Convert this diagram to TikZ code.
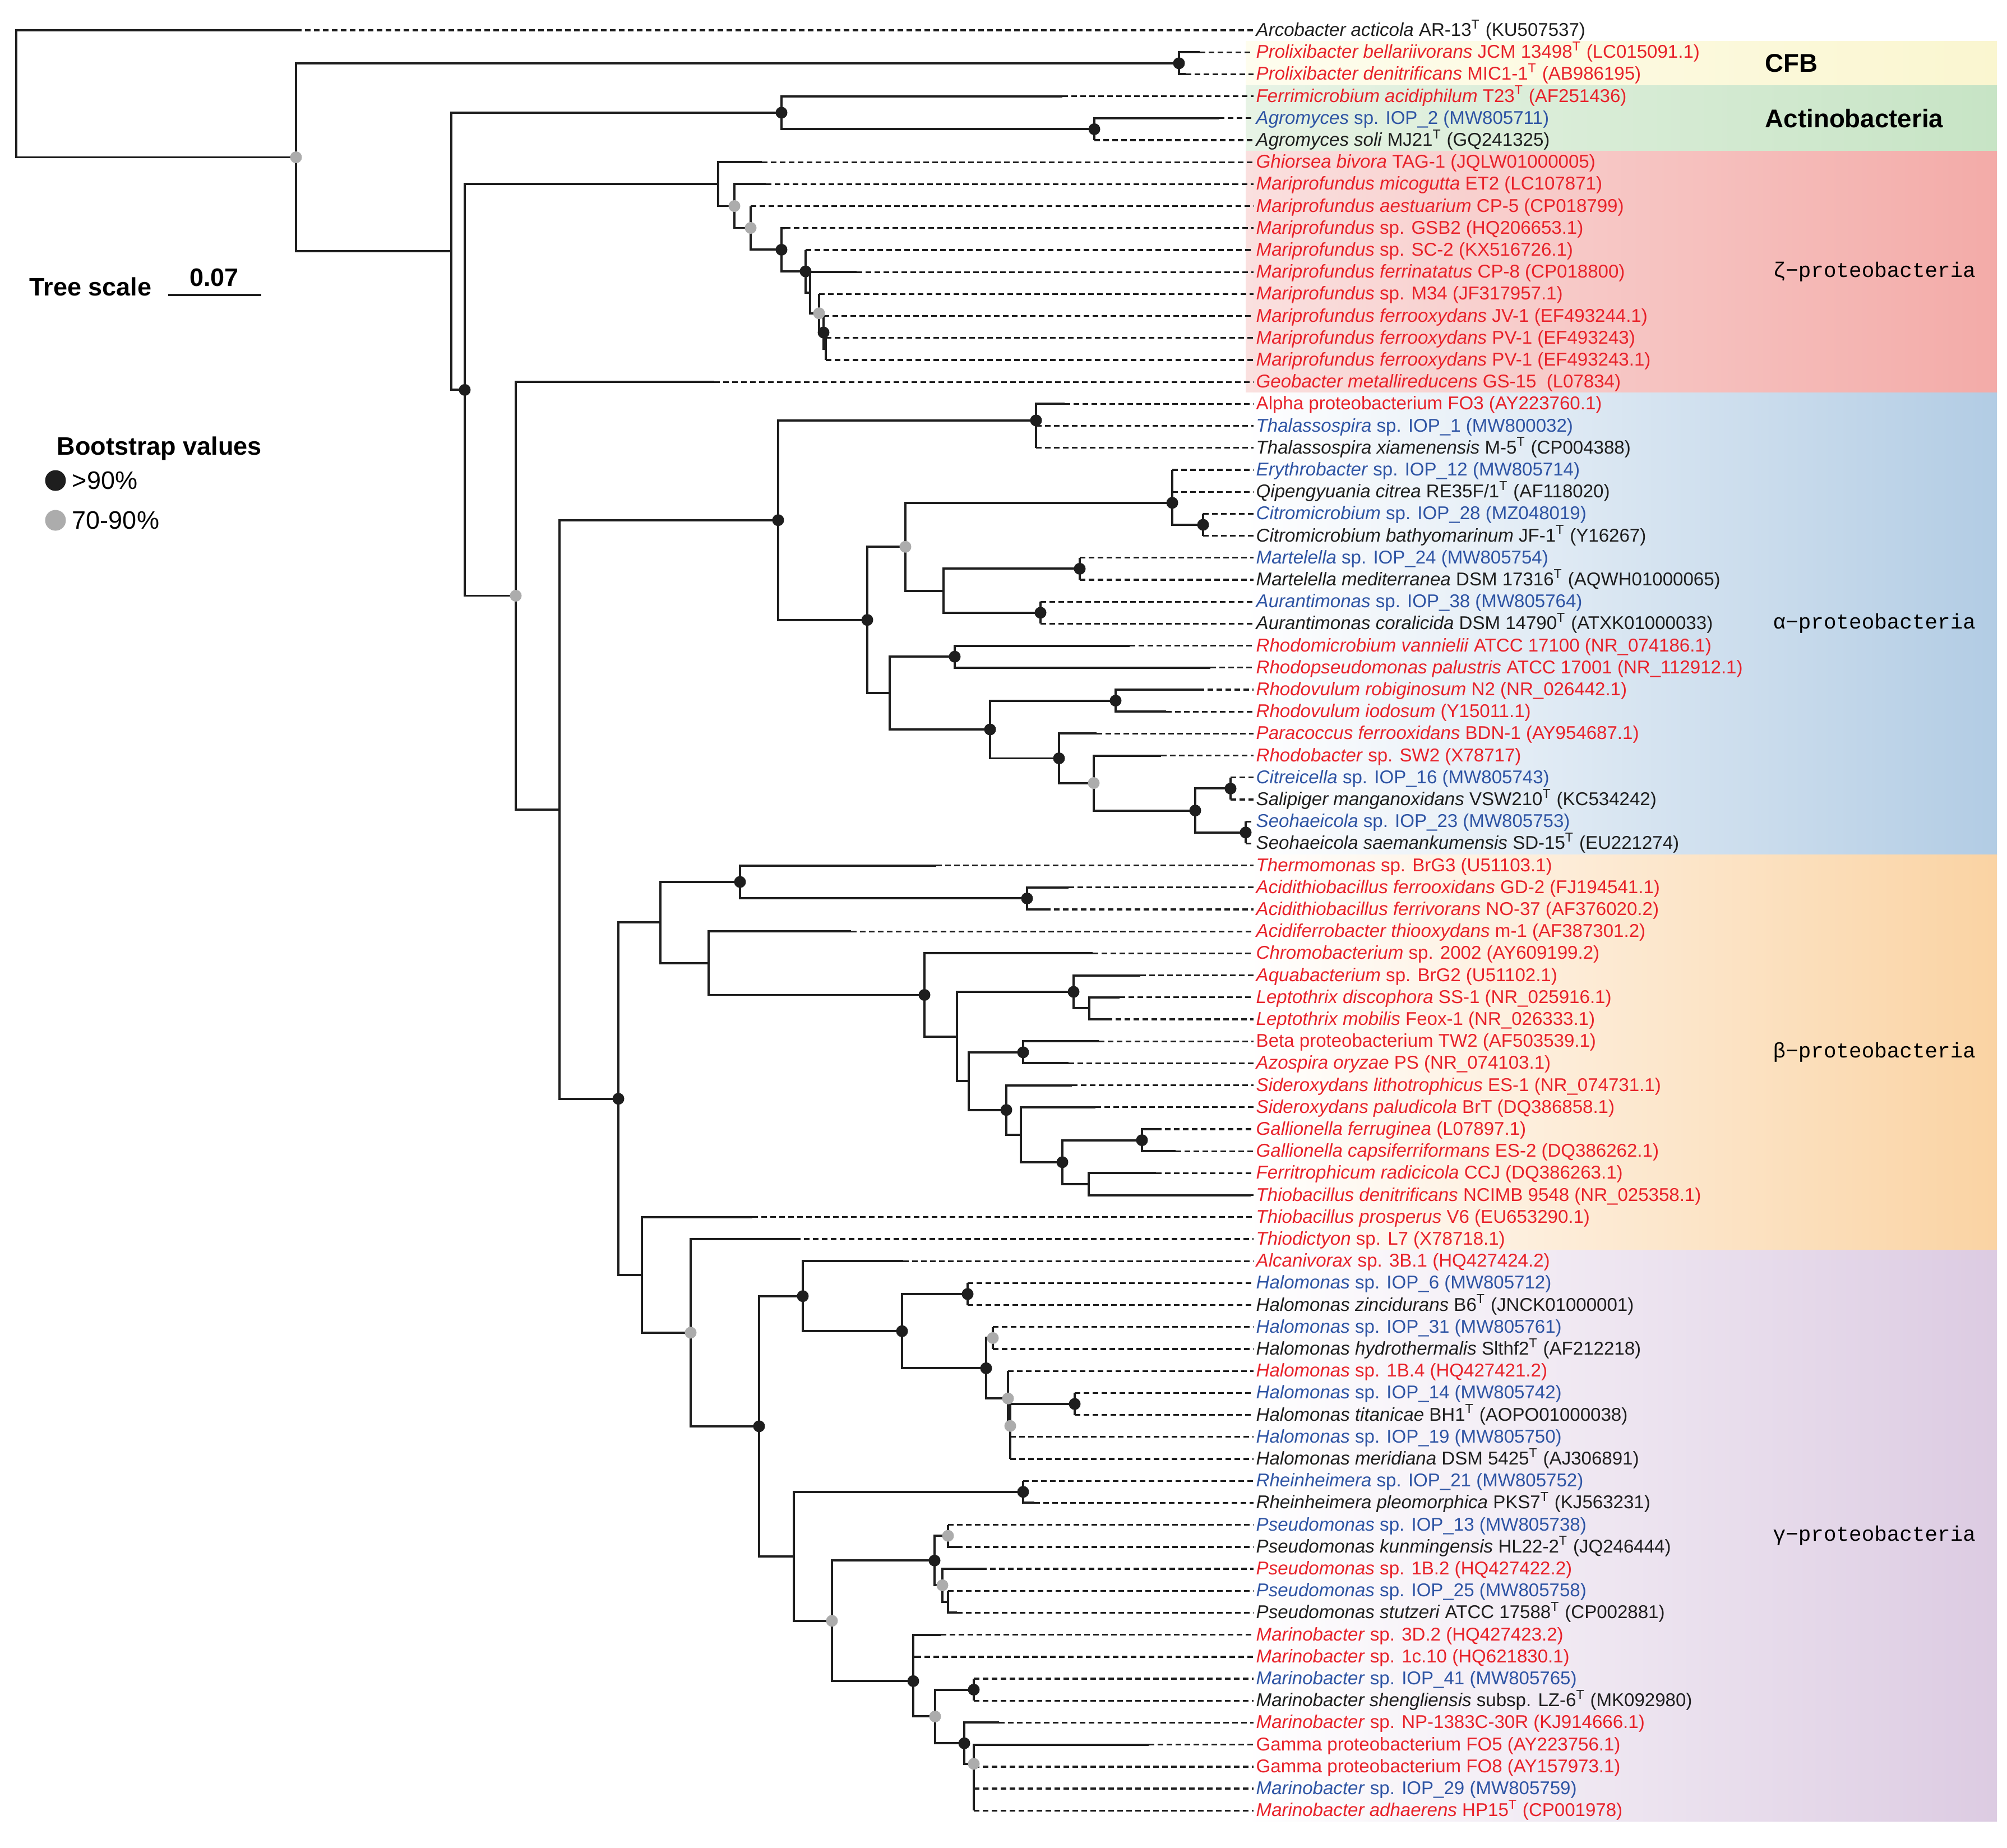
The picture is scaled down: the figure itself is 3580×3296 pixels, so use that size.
\documentclass[tikz,border=0pt]{standalone}
\usepackage{fontspec}
\setmainfont{Liberation Sans}
\newfontfamily\cladefont{Liberation Mono}
\usetikzlibrary{positioning}
\definecolor{leafred}{RGB}{232,34,42}
\definecolor{leafblue}{RGB}{46,84,164}
\definecolor{leafblack}{RGB}{30,30,30}
\definecolor{dotgray}{RGB}{172,172,172}
\definecolor{cfbL}{RGB}{254,253,238}
\definecolor{cfbR}{RGB}{250,246,208}
\definecolor{actL}{RGB}{231,243,229}
\definecolor{actR}{RGB}{199,228,197}
\definecolor{zetL}{RGB}{250,224,223}
\definecolor{zetR}{RGB}{243,171,168}
\definecolor{alpR}{RGB}{178,204,228}
\definecolor{betR}{RGB}{250,211,163}
\definecolor{gamR}{RGB}{220,203,226}
\newcommand{\Ts}{\textsuperscript{T}}
\tikzset{branch/.style = {line width = 1.1pt, leafblack},
         tipline/.style = {line width = 0.95pt, leafblack, dash pattern = on 1mm off 0.6mm, shorten > = 0.4mm},
         bshi/.style = {fill = leafblack, circle, inner sep = 0, minimum size = 2.1mm},
         bsmid/.style = {fill = dotgray, circle, inner sep = 0, minimum size = 2.1mm},
         leaf/.style = {anchor = base west, inner sep = 0, font = \fontsize{9.4}{11}\selectfont},
         clade/.style = {anchor = west, inner sep = 0, font = \fontsize{10.7}{12}\cladefont},
         legend/.style = {anchor = west, inner sep = 0, font = \fontsize{12.8}{14}\selectfont}}

\begin{document}
\begin{tikzpicture}[x=0.01cm, y=-0.01cm]
    \useasboundingbox (0,0) rectangle (3580,3296);
    % clade bands
    \shade [left color=cfbL, right color=cfbR] (2222,73.6) rectangle (3562,152);
    \shade [left color=actL, right color=actR] (2222,152) rectangle (3562,269.6);
    \shade [left color=zetL, right color=zetR] (2222,269.6) rectangle (3562,700.8);
    \shade [left color=white, right color=alpR] (2222,700.8) rectangle (3562,1524);
    \shade [left color=white, right color=betR] (2222,1524) rectangle (3562,2229.6);
    \shade [left color=white, right color=gamR] (2222,2229.6) rectangle (3562,3248.8);
    % internal nodes
    \coordinate (root) at (29,167.2);
    \coordinate (n2) at (528,280.5);
    \coordinate (prx) at (2103,112.8);
    \coordinate (nA) at (805,448.2);
    \coordinate (act) at (1394,201);
    \coordinate (agr) at (1952,230.4);
    \coordinate (nB) at (829,695.4);
    \coordinate (z1) at (1281,328.3);
    \coordinate (z2) at (1310,367.5);
    \coordinate (z3) at (1339,406.5);
    \coordinate (z4) at (1394,445.4);
    \coordinate (z5) at (1437,484);
    \coordinate (z6) at (1445,522);
    \coordinate (z7) at (1461,558.7);
    \coordinate (z8) at (1469,593);
    \coordinate (z9) at (1473,622.4);
    \coordinate (nC) at (920,1062.5);
    \coordinate (nD) at (998,1443.7);
    \coordinate (al) at (1388,927.7);
    \coordinate (thal) at (1848,749.8);
    \coordinate (a2) at (1547,1105.7);
    \coordinate (a3) at (1615,975.2);
    \coordinate (ery) at (2091,896.8);
    \coordinate (cmb) at (2146,936);
    \coordinate (a5) at (1683,1053.6);
    \coordinate (mar) at (1926,1014.4);
    \coordinate (aur) at (1856,1092.8);
    \coordinate (a4) at (1587,1236.1);
    \coordinate (rmi) at (1703,1171.2);
    \coordinate (a6) at (1766,1301);
    \coordinate (rvu) at (1990,1249.6);
    \coordinate (a7) at (1889,1352.5);
    \coordinate (a8) at (1951,1396.6);
    \coordinate (a9) at (2132,1445.6);
    \coordinate (cit) at (2195,1406.4);
    \coordinate (seo) at (2222,1484.8);
    \coordinate (nE) at (1103,1959.7);
    \coordinate (ff) at (1178,1645.4);
    \coordinate (f1) at (1320,1573);
    \coordinate (ati) at (1832,1602.4);
    \coordinate (gg) at (1264,1717.9);
    \coordinate (hh) at (1649,1774.5);
    \coordinate (h2) at (1707,1848.6);
    \coordinate (h3) at (1915,1769);
    \coordinate (h5) at (1943,1798.4);
    \coordinate (h4) at (1728,1928.3);
    \coordinate (h47) at (1825,1876.8);
    \coordinate (h6) at (1795,1979.7);
    \coordinate (h7) at (1821,2023.8);
    \coordinate (h8) at (1895,2072.8);
    \coordinate (gal) at (2037,2033.6);
    \coordinate (h9) at (1942,2112);
    \coordinate (nI) at (1145,2273.9);
    \coordinate (nJ) at (1232,2376.9);
    \coordinate (nK) at (1354,2543.8);
    \coordinate (nL) at (1432,2311.7);
    \coordinate (nM) at (1609,2374.2);
    \coordinate (hm1) at (1726,2308);
    \coordinate (nN) at (1759,2440.3);
    \coordinate (hm2) at (1771,2386.4);
    \coordinate (nO) at (1798,2494.2);
    \coordinate (nQ) at (1802,2543.2);
    \coordinate (pp) at (1917,2504);
    \coordinate (nR) at (1416,2775.8);
    \coordinate (rhe) at (1825,2660.8);
    \coordinate (nS) at (1484,2890.8);
    \coordinate (nT) at (1667,2783.3);
    \coordinate (ps1) at (1691,2739.2);
    \coordinate (nV) at (1681,2827.4);
    \coordinate (nW) at (1691,2856.8);
    \coordinate (nU) at (1629,2998.3);
    \coordinate (nX) at (1668,3061.4);
    \coordinate (mb1) at (1737,3013.6);
    \coordinate (nY) at (1720,3109.2);
    \coordinate (nZ) at (1737,3145.9);
    % branches between internal nodes
    \foreach \p/\c in {root/n2, n2/prx, n2/nA, nA/act, act/agr, nA/nB, nB/z1, z1/z2, z2/z3, z3/z4,
        z4/z5, z5/z6, z6/z7, z7/z8, z8/z9, nB/nC, nC/nD, nD/al, al/thal, al/a2, a2/a3, a3/ery,
        ery/cmb, a3/a5, a5/mar, a5/aur, a2/a4, a4/rmi, a4/a6, a6/rvu, a6/a7, a7/a8, a8/a9, a9/cit,
        a9/seo, nD/nE, nE/ff, ff/f1, f1/ati, ff/gg, gg/hh, hh/h2, h2/h3, h3/h5, h2/h4, h4/h47,
        h4/h6, h6/h7, h7/h8, h8/gal, h8/h9, nE/nI, nI/nJ, nJ/nK, nK/nL, nL/nM, nM/hm1, nM/nN,
        nN/hm2, nN/nO, nO/nQ, nQ/pp, nK/nR, nR/rhe, nR/nS, nS/nT, nT/ps1, nT/nV, nV/nW, nS/nU,
        nU/nX, nX/mb1, nX/nY, nY/nZ}
        \draw [branch] (\p) |- (\c);
    % leaves: row / parent / end of solid branch / colour / label
    \foreach \i/\p/\e/\col/\txt in {
        1/root/528/leafblack/{\textit{Arcobacter acticola} AR-13\Ts{} (KU507537)},
        2/prx/2140/leafred/{\textit{Prolixibacter bellariivorans} JCM 13498\Ts{} (LC015091.1)},
        3/prx/2115/leafred/{\textit{Prolixibacter denitrificans} MIC1-1\Ts{} (AB986195)},
        4/act/1895/leafred/{\textit{Ferrimicrobium acidiphilum} T23\Ts{} (AF251436)},
        5/agr/2174/leafblue/{\textit{Agromyces} sp. IOP\_2 (MW805711)},
        6/agr/1952/leafblack/{\textit{Agromyces soli} MJ21\Ts{} (GQ241325)},
        7/z1/1359/leafred/{\textit{Ghiorsea bivora} TAG-1 (JQLW01000005)},
        8/z2/1366/leafred/{\textit{Mariprofundus micogutta} ET2 (LC107871)},
        9/z3/1339/leafred/{\textit{Mariprofundus aestuarium} CP-5 (CP018799)},
        10/z4/1400/leafred/{\textit{Mariprofundus} sp. GSB2 (HQ206653.1)},
        11/z5/1437/leafred/{\textit{Mariprofundus} sp. SC-2 (KX516726.1)},
        12/z6/1528/leafred/{\textit{Mariprofundus ferrinatatus} CP-8 (CP018800)},
        13/z7/1461/leafred/{\textit{Mariprofundus} sp. M34 (JF317957.1)},
        14/z8/1469/leafred/{\textit{Mariprofundus ferrooxydans} JV-1 (EF493244.1)},
        15/z9/1473/leafred/{\textit{Mariprofundus ferrooxydans} PV-1 (EF493243)},
        16/z9/1473/leafred/{\textit{Mariprofundus ferrooxydans} PV-1 (EF493243.1)},
        17/nC/1274/leafred/{\textit{Geobacter metallireducens} GS-15\ \ (L07834)},
        18/thal/1899/leafred/{Alpha proteobacterium FO3 (AY223760.1)},
        19/thal/1848/leafblue/{\textit{Thalassospira} sp. IOP\_1 (MW800032)},
        20/thal/1848/leafblack/{\textit{Thalassospira xiamenensis} M-5\Ts{} (CP004388)},
        21/ery/2091/leafblue/{\textit{Erythrobacter} sp. IOP\_12 (MW805714)},
        22/ery/2091/leafblack/{\textit{Qipengyuania citrea} RE35F\slash 1\Ts{} (AF118020)},
        23/cmb/2146/leafblue/{\textit{Citromicrobium} sp. IOP\_28 (MZ048019)},
        24/cmb/2146/leafblack/{\textit{Citromicrobium bathyomarinum} JF-1\Ts{} (Y16267)},
        25/mar/1926/leafblue/{\textit{Martelella} sp. IOP\_24 (MW805754)},
        26/mar/1926/leafblack/{\textit{Martelella mediterranea} DSM 17316\Ts{} (AQWH01000065)},
        27/aur/1856/leafblue/{\textit{Aurantimonas} sp. IOP\_38 (MW805764)},
        28/aur/1856/leafblack/{\textit{Aurantimonas coralicida} DSM 14790\Ts{} (ATXK01000033)},
        29/rmi/2015/leafred/{\textit{Rhodomicrobium vannielii} ATCC 17100 (NR\_074186.1)},
        30/rmi/2159/leafred/{\textit{Rhodopseudomonas palustris} ATCC 17001 (NR\_112912.1)},
        31/rvu/2138/leafred/{\textit{Rhodovulum robiginosum} N2 (NR\_026442.1)},
        32/rvu/2080/leafred/{\textit{Rhodovulum iodosum} (Y15011.1)},
        33/a7/1956/leafred/{\textit{Paracoccus ferrooxidans} BDN-1 (AY954687.1)},
        34/a8/2071/leafred/{\textit{Rhodobacter} sp. SW2 (X78717)},
        35/cit/2195/leafblue/{\textit{Citreicella} sp. IOP\_16 (MW805743)},
        36/cit/2195/leafblack/{\textit{Salipiger manganoxidans} VSW210\Ts{} (KC534242)},
        37/seo/2222/leafblue/{\textit{Seohaeicola} sp. IOP\_23 (MW805753)},
        38/seo/2222/leafblack/{\textit{Seohaeicola saemankumensis} SD-15\Ts{} (EU221274)},
        39/f1/1670/leafred/{\textit{Thermomonas} sp. BrG3 (U51103.1)},
        40/ati/1906/leafred/{\textit{Acidithiobacillus ferrooxidans} GD-2 (FJ194541.1)},
        41/ati/1864/leafred/{\textit{Acidithiobacillus ferrivorans} NO-37 (AF376020.2)},
        42/gg/1518/leafred/{\textit{Acidiferrobacter thiooxydans} m-1 (AF387301.2)},
        43/hh/1949/leafred/{\textit{Chromobacterium} sp. 2002 (AY609199.2)},
        44/h3/2034/leafred/{\textit{Aquabacterium} sp. BrG2 (U51102.1)},
        45/h5/1997/leafred/{\textit{Leptothrix discophora} SS-1 (NR\_025916.1)},
        46/h5/1974/leafred/{\textit{Leptothrix mobilis} Feox-1 (NR\_026333.1)},
        47/h47/1960/leafred/{Beta proteobacterium TW2 (AF503539.1)},
        48/h47/1906/leafred/{\textit{Azospira oryzae} PS (NR\_074103.1)},
        49/h6/1912/leafred/{\textit{Sideroxydans lithotrophicus} ES-1 (NR\_074731.1)},
        50/h7/1954/leafred/{\textit{Sideroxydans paludicola} BrT (DQ386858.1)},
        51/gal/2062/leafred/{\textit{Gallionella ferruginea} (L07897.1)},
        52/gal/2097/leafred/{\textit{Gallionella capsiferriformans} ES-2 (DQ386262.1)},
        53/h9/2062/leafred/{\textit{Ferritrophicum radicicola} CCJ (DQ386263.1)},
        54/h9/2231/leafred/{\textit{Thiobacillus denitrificans} NCIMB 9548 (NR\_025358.1)},
        55/nI/1342/leafred/{\textit{Thiobacillus prosperus} V6 (EU653290.1)},
        56/nJ/1418/leafred/{\textit{Thiodictyon} sp. L7 (X78718.1)},
        57/nL/1611/leafred/{\textit{Alcanivorax} sp. 3B.1 (HQ427424.2)},
        58/hm1/1726/leafblue/{\textit{Halomonas} sp. IOP\_6 (MW805712)},
        59/hm1/1726/leafblack/{\textit{Halomonas zincidurans} B6\Ts{} (JNCK01000001)},
        60/hm2/1771/leafblue/{\textit{Halomonas} sp. IOP\_31 (MW805761)},
        61/hm2/1771/leafblack/{\textit{Halomonas hydrothermalis} Slthf2\Ts{} (AF212218)},
        62/nO/1798/leafred/{\textit{Halomonas} sp. 1B.4 (HQ427421.2)},
        63/pp/1917/leafblue/{\textit{Halomonas} sp. IOP\_14 (MW805742)},
        64/pp/1917/leafblack/{\textit{Halomonas titanicae} BH1\Ts{} (AOPO01000038)},
        65/nQ/1802/leafblue/{\textit{Halomonas} sp. IOP\_19 (MW805750)},
        66/nQ/1802/leafblack/{\textit{Halomonas meridiana} DSM 5425\Ts{} (AJ306891)},
        67/rhe/1825/leafblue/{\textit{Rheinheimera} sp. IOP\_21 (MW805752)},
        68/rhe/1845/leafblack/{\textit{Rheinheimera pleomorphica} PKS7\Ts{} (KJ563231)},
        69/ps1/1691/leafblue/{\textit{Pseudomonas} sp. IOP\_13 (MW805738)},
        70/ps1/1707/leafblack/{\textit{Pseudomonas kunmingensis} HL22-2\Ts{} (JQ246444)},
        71/nV/1750/leafred/{\textit{Pseudomonas} sp. 1B.2 (HQ427422.2)},
        72/nW/1691/leafblue/{\textit{Pseudomonas} sp. IOP\_25 (MW805758)},
        73/nW/1707/leafblack/{\textit{Pseudomonas stutzeri} ATCC 17588\Ts{} (CP002881)},
        74/nU/1678/leafred/{\textit{Marinobacter} sp. 3D.2 (HQ427423.2)},
        75/nU/1633/leafred/{\textit{Marinobacter} sp. 1c.10 (HQ621830.1)},
        76/mb1/1737/leafblue/{\textit{Marinobacter} sp. IOP\_41 (MW805765)},
        77/mb1/1737/leafblack/{\textit{Marinobacter shengliensis} subsp. LZ-6\Ts{} (MK092980)},
        78/nY/1782/leafred/{\textit{Marinobacter} sp. NP-1383C-30R (KJ914666.1)},
        79/nZ/2049/leafred/{Gamma proteobacterium FO5 (AY223756.1)},
        80/nZ/1737/leafred/{Gamma proteobacterium FO8 (AY157973.1)},
        81/nZ/1737/leafblue/{\textit{Marinobacter} sp. IOP\_29 (MW805759)},
        82/nZ/1737/leafred/{\textit{Marinobacter adhaerens} HP15\Ts{} (CP001978)}}
    {
        \pgfmathsetmacro\yy{54+(\i-1)*39.2}
        \coordinate (e\i) at (\e,\yy);
        \node [leaf, text=\col] (l\i) at (2240,\yy+10.5) {\txt};
        \draw [branch] (\p) |- (e\i);
        \draw [tipline] (e\i) -- (l\i.west |- e\i);
    }
    % bootstrap dots
    \foreach \n in {prx, act, agr, nB, z4, z5, z8, al, thal, a2, ery, cmb, mar, aur, rmi, a6, rvu,
        a7, a9, cit, seo, nE, f1, ati, hh, h3, h47, h6, h8, gal, nK, nL, nM, hm1, nN, pp, rhe, nT,
        nU, mb1, nY}
        \node [bshi] at (\n) {};
    \foreach \n in {n2, nC, z2, z3, z7, a3, a8, nJ, hm2, nO, nQ, nS, ps1, nV, nX, nZ}
        \node [bsmid] at (\n) {};
    % clade names
    \node [anchor=west, inner sep=0, font=\fontsize{13}{14}\bfseries] (cfb) at (3148,113) {CFB};
    \node [anchor=west, inner sep=0, font=\fontsize{13}{14}\bfseries] (actino) at (3148,211) {Actinobacteria};
    \node [clade] (zeta) at (3162,485) {ζ−proteobacteria};
    \node [clade] (alpha) at (3162,1112) {α−proteobacteria};
    \node [clade] (beta) at (3162,1877) {β−proteobacteria};
    \node [clade] (gamma) at (3162,2739) {γ−proteobacteria};
    % tree scale
    \node [legend, font=\fontsize{12.8}{14}\bfseries] (tscale) at (52,511) {Tree scale};
    \coordinate (sbl) at (300,526);
    \coordinate (sbr) at (466,526);
    \draw [line width=1.2pt, leafblack] (sbl) -- (sbr);
    \node [font=\fontsize{12.8}{14}\bfseries, inner sep=0] (sbval) at (382,495) {0.07};
    % bootstrap legend
    \node [legend, font=\fontsize{12.8}{14}\bfseries] (bstitle) at (101,800) {Bootstrap values};
    \node [bshi, minimum size=3.7mm] (kblack) at (99,857) {};
    \node [legend, right=1mm of kblack] (kblacktxt) {>90\%};
    \node [bsmid, minimum size=3.7mm] (kgray) at (99,928) {};
    \node [legend, right=1mm of kgray] (kgraytxt) {70-90\%};
\end{tikzpicture}
\end{document}
